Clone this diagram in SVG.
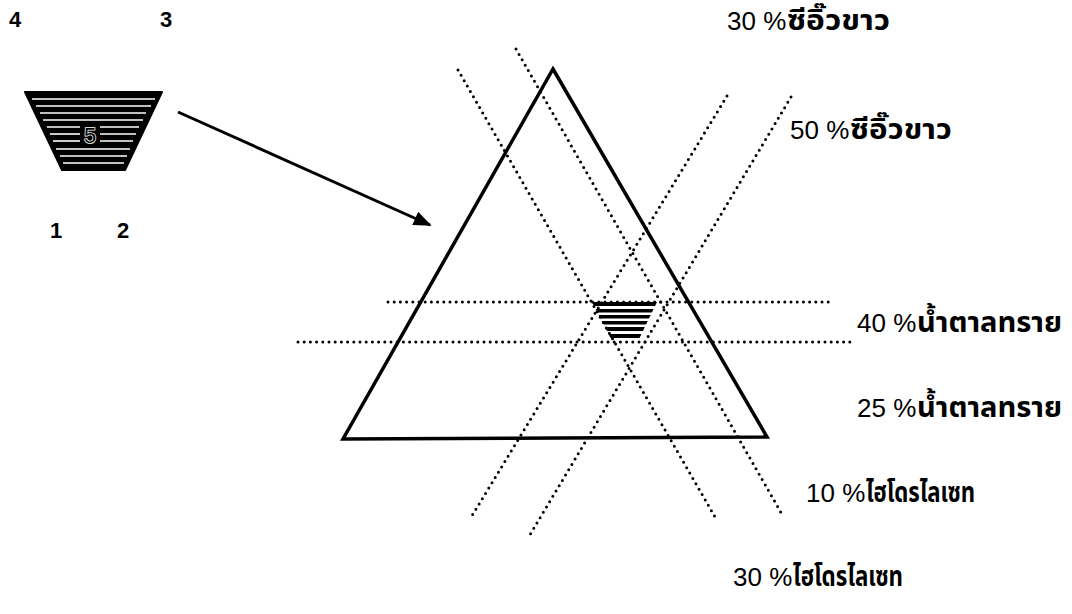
<svg xmlns="http://www.w3.org/2000/svg" width="1072" height="614" viewBox="0 0 1072 614">
<style>
.num{font-family:"Liberation Sans",Arial,sans-serif;font-size:22px;font-weight:bold;fill:#000}
.dig{font-family:"Liberation Sans",Arial,sans-serif;font-size:26px;fill:#000}
.th{font-family:"Noto Sans Thai","Liberation Sans","Noto Sans",sans-serif;font-size:28px;font-weight:bold;fill:#000}
.dot{fill:none;stroke:#000;stroke-width:3;stroke-linecap:round;stroke-dasharray:0 6.2}
.solid{fill:none;stroke:#000;stroke-width:3.5;stroke-linejoin:miter}
.streak{stroke:#fff;stroke-width:1.6}
</style>
<defs>
<clipPath id="cpSmall"><polygon points="592,302 657,302 638,341 612,341"/></clipPath>
<marker id="arr" viewBox="0 0 10 10" refX="9" refY="5" markerWidth="6" markerHeight="6" orient="auto" markerUnits="strokeWidth"><path d="M0,1 L10,5 L0,9 z" fill="#000"/></marker>
</defs>
<rect width="1072" height="614" fill="#fff"/>
<g id="corner-labels">
<text class="num" x="9" y="27">4</text>
<text class="num" x="160" y="27">3</text>
<text class="num" x="50" y="238">1</text>
<text class="num" x="117" y="238">2</text>
</g>
<g id="legend-trapezoid">
<polygon points="25,92 162,92 125,170 62,170" fill="#000" stroke="#000" stroke-width="2" stroke-linejoin="round"/>
<line class="streak" x1="32" y1="99" x2="155" y2="99"/>
<line class="streak" x1="36" y1="106" x2="151" y2="106"/>
<line class="streak" x1="40" y1="113" x2="146" y2="113"/>
<line class="streak" x1="43" y1="120" x2="143" y2="120"/>
<line class="streak" x1="47" y1="127" x2="80" y2="127"/>
<line class="streak" x1="100" y1="127" x2="139" y2="127"/>
<line class="streak" x1="50" y1="134" x2="80" y2="134"/>
<line class="streak" x1="100" y1="134" x2="136" y2="134"/>
<line class="streak" x1="53" y1="141" x2="80" y2="141"/>
<line class="streak" x1="100" y1="141" x2="133" y2="141"/>
<line class="streak" x1="56" y1="149" x2="130" y2="149"/>
<line class="streak" x1="60" y1="156" x2="127" y2="156"/>
<line class="streak" x1="63" y1="163" x2="124" y2="163"/>
<text x="90" y="143" text-anchor="middle" font-family="Liberation Sans,Arial,sans-serif" font-size="22" fill="#000" stroke="#fff" stroke-width="1.5" paint-order="stroke">5</text>
</g>
<g id="triangle">
<polygon class="solid" points="553,69 767,437 343,439"/>
</g>
<g id="connectors">
<line x1="178" y1="112" x2="430" y2="225" stroke="#000" stroke-width="3" marker-end="url(#arr)"/>
<line class="dot" x1="458" y1="70" x2="715" y2="517"/>
<line class="dot" x1="516" y1="49" x2="783" y2="516"/>
<line class="dot" x1="727" y1="96" x2="470" y2="519"/>
<line class="dot" x1="791" y1="97" x2="528" y2="538"/>
<line class="dot" x1="388" y1="302" x2="832" y2="302"/>
<line class="dot" x1="298" y1="342" x2="852" y2="342"/>
</g>
<g id="mixture-region">
<g clip-path="url(#cpSmall)">
<rect x="590" y="302" width="70" height="4" fill="#000"/>
<rect x="590" y="309" width="70" height="3.5" fill="#000"/>
<rect x="590" y="315" width="70" height="3.5" fill="#000"/>
<rect x="590" y="321" width="70" height="3.5" fill="#000"/>
<rect x="590" y="327" width="70" height="4" fill="#000"/>
<rect x="590" y="334" width="70" height="4" fill="#000"/>
</g>
</g>
<g id="labels">
<g id="label-soy30"><text class="dig" x="727" y="30">30 %</text><text class="th" x="787" y="30" textLength="103" lengthAdjust="spacingAndGlyphs">ซีอิ๊วขาว</text></g>
<g id="label-soy50"><text class="dig" x="790" y="139">50 %</text><text class="th" x="850" y="139" textLength="102" lengthAdjust="spacingAndGlyphs">ซีอิ๊วขาว</text></g>
<g id="label-sugar40"><text class="dig" x="857" y="332">40 %</text><text class="th" x="917" y="332" textLength="145" lengthAdjust="spacingAndGlyphs">น้ำตาลทราย</text></g>
<g id="label-sugar25"><text class="dig" x="857" y="417">25 %</text><text class="th" x="917" y="417" textLength="145" lengthAdjust="spacingAndGlyphs">น้ำตาลทราย</text></g>
<g id="label-hydro10"><text class="dig" x="806" y="502">10 %</text><text class="th" x="866" y="502" textLength="109" lengthAdjust="spacingAndGlyphs">ไฮโดรไลเซท</text></g>
<g id="label-hydro30"><text class="dig" x="733" y="586">30 %</text><text class="th" x="793" y="586" textLength="110" lengthAdjust="spacingAndGlyphs">ไฮโดรไลเซท</text></g>
</g>
</svg>
